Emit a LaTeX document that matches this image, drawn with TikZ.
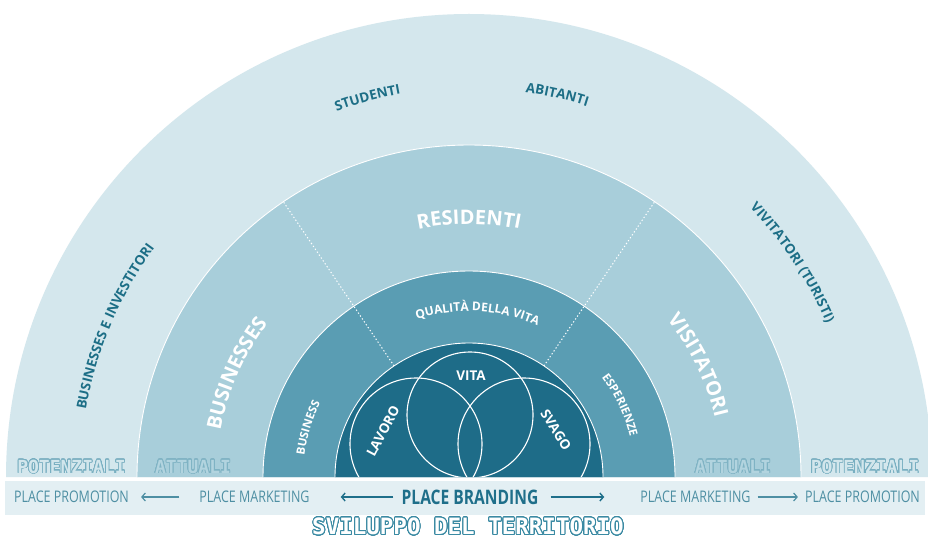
\documentclass[tikz,border=0pt]{standalone}
\usepackage{fontspec}
\setmainfont{Open Sans}
\newfontfamily\bandfont[FakeStretch=0.78]{Open Sans}
\newfontfamily\monofont{DejaVu Sans Mono}
\usepackage{contour}
\contournumber{32}
\usetikzlibrary{decorations.text,arrows.meta,calc}
\definecolor{ringA}{HTML}{D4E7ED}
\definecolor{ringB}{HTML}{A8CEDA}
\definecolor{ringC}{HTML}{5A9DB3}
\definecolor{ringD}{HTML}{1E6C88}
\definecolor{labteal}{HTML}{1C6E86}
\definecolor{bandbg}{HTML}{E3EFF3}
\definecolor{bandtxt}{HTML}{4E8FA3}
\definecolor{branding}{HTML}{1F6F8A}
\definecolor{potfill}{HTML}{D2E6EC}
\definecolor{potline}{HTML}{78AFC1}
\definecolor{attfill}{HTML}{B2D4DF}
\definecolor{attline}{HTML}{7FB3C4}
\definecolor{svline}{HTML}{3A8AA3}
% #1 radius, #2 start angle, #3 end angle, #4 format, #5 text
\newcommand\arclabel[5]{%
  \path[decorate,decoration={text along path,text align=center,text={|#4|#5}}]
    ([shift={(#2:#1)}]C) arc[start angle=#2,end angle=#3,radius=#1];}
\newcommand\outltext[3]{\textcolor{#2}{\contour{#1}{#3}}}
\begin{document}
\begin{tikzpicture}[x=1pt,y=1pt,
  ringline/.style={draw=white,line width=0.9pt},
  venn/.style={draw=white,line width=1.1pt},
  sepline/.style={draw=white,line width=1pt,dash pattern=on 1.3pt off 2.2pt},
  bandlabel/.style={inner sep=0pt,text=bandtxt,font=\bandfont\fontsize{16}{16}\selectfont},
  brandlabel/.style={inner sep=0pt,text=branding,font=\bandfont\bfseries\fontsize{20}{20}\selectfont},
  bandarrow/.style={draw=bandtxt,line width=1.2pt,-{Straight Barb[length=3.5pt,width=8pt]}},
  brandarrow/.style={draw=branding,line width=1.4pt,-{Straight Barb[length=3.5pt,width=8pt]}},
  innerlabel/.style={inner sep=0pt,text=white,font=\bfseries\fontsize{13.5}{14}\selectfont},
  levellabel/.style={inner sep=0pt,font=\monofont\bfseries\fontsize{18}{18}\selectfont},
  devlabel/.style={inner sep=0pt,anchor=base,font=\monofont\bfseries\fontsize{22.5}{23}\selectfont}]
\useasboundingbox (0,0) rectangle (928,539);
\fill[white] (0,0) rectangle (928,539);
\coordinate (C) at (469,62);
\begin{scope}
\clip (0,0) rectangle (928,539);
% rings
\fill[ringA] ([shift={(0:463)}]C) arc[start angle=0,end angle=180,radius=463] -- cycle;
\fill[ringB] ([shift={(0:332)}]C) arc[start angle=0,end angle=180,radius=332] -- cycle;
\draw[ringline] ([shift={(0:332)}]C) arc[start angle=0,end angle=180,radius=332];
\fill[ringC] ([shift={(0:206)}]C) arc[start angle=0,end angle=180,radius=206] -- cycle;
\draw[ringline] ([shift={(0:206)}]C) arc[start angle=0,end angle=180,radius=206];
% dotted separators
\coordinate (sLa) at ([shift={(124:134)}]C);
\coordinate (sLb) at ([shift={(124:332)}]C);
\coordinate (sRa) at ([shift={(56:134)}]C);
\coordinate (sRb) at ([shift={(56:332)}]C);
\draw[sepline] (sLa) -- (sLb);
\draw[sepline] (sRa) -- (sRb);
\fill[ringD] ([shift={(0:134)}]C) arc[start angle=0,end angle=180,radius=134] -- cycle;
\draw[ringline] ([shift={(0:134)}]C) arc[start angle=0,end angle=180,radius=134];
\end{scope}
% Venn circles
\begin{scope}
\clip ([shift={(0:134)}]C) arc[start angle=0,end angle=180,radius=134] -- cycle;
\draw[venn] (470,124) circle[radius=63];
\draw[venn] (416,95) circle[radius=66];
\draw[venn] (524,95) circle[radius=66];
\end{scope}
% outer labels
\arclabel{389}{125}{85}{\bfseries\fontsize{13.5}{14}\selectfont\color{labteal}}{STUDENTI}
\arclabel{389}{97}{57}{\bfseries\fontsize{13.5}{14}\selectfont\color{labteal}}{ABITANTI}
\arclabel{389}{187}{127}{\bfseries\fontsize{13.5}{14}\selectfont\color{labteal}}{BUSINESSES E INVESTITORI}
\arclabel{389}{63}{4}{\bfseries\fontsize{13.5}{14}\selectfont\color{labteal}}{VIVITATORI (TURISTI)}
% ring B labels
\arclabel{253}{120}{60}{\bfseries\fontsize{20}{20}\selectfont\color{white}}{RESIDENTI}
\arclabel{253}{186}{126}{\bfseries\fontsize{20}{20}\selectfont\color{white}}{BUSINESSES}
\arclabel{253}{56}{-4}{\bfseries\fontsize{20}{20}\selectfont\color{white}}{VISITATORI}
% ring C labels
\arclabel{166}{117}{57}{\bfseries\fontsize{12}{12}\selectfont\color{white}}{QUALITÀ DELLA VITA}
\arclabel{166}{190}{136}{\bfseries\fontsize{11.5}{12}\selectfont\color{white}}{BUSINESS}
\arclabel{166}{52}{-1}{\bfseries\fontsize{11.5}{12}\selectfont\color{white}}{ESPERIENZE}
% inner labels
\node[innerlabel] (vita) at (471,163) {VITA};
\node[innerlabel,rotate=62] (lavoro) at (383,108) {LAVORO};
\node[innerlabel,rotate=-58] (svago) at (556,109) {SVAGO};
% level labels
\contourlength{0.7pt}
\node[levellabel] (potL) at (71.5,72) {\outltext{potline}{potfill}{POTENZIALI}};
\node[levellabel] (attL) at (193,72) {\outltext{attline}{attfill}{ATTUALI}};
\node[levellabel] (attR) at (733,72) {\outltext{attline}{attfill}{ATTUALI}};
\node[levellabel] (potR) at (865,72) {\outltext{potline}{potfill}{POTENZIALI}};
% band
\fill[bandbg] (5,24) rectangle (925,58);
\node[bandlabel] (pL) at (71.5,42) {PLACE PROMOTION};
\node[bandlabel] (mL) at (254.5,42) {PLACE MARKETING};
\node[brandlabel] (br) at (470,42) {PLACE BRANDING};
\node[bandlabel] (mR) at (695.5,42) {PLACE MARKETING};
\node[bandlabel] (pR) at (862.5,42) {PLACE PROMOTION};
\draw[bandarrow,shorten <=20pt,shorten >=12pt] (mL.west) -- (pL.east);
\draw[brandarrow,shorten <=8pt,shorten >=31pt] (br.west) -- (mL.east);
\draw[brandarrow,shorten <=12pt,shorten >=36pt] (br.east) -- (mR.west);
\draw[bandarrow,shorten <=7pt,shorten >=7pt] (mR.east) -- (pR.west);
% title
\contourlength{0.9pt}
\node[devlabel] (dev) at (468,4.5) {\outltext{svline}{white}{SVILUPPO DEL TERRITORIO}};
\end{tikzpicture}
\end{document}
